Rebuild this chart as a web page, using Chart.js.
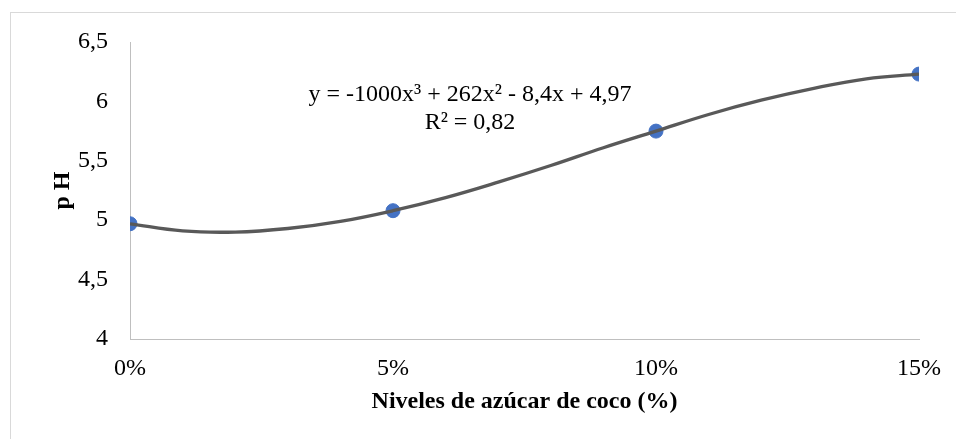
<!DOCTYPE html>
<html>
<head>
<meta charset="utf-8">
<script src="https://cdn.jsdelivr.net/npm/chart.js@4"></script>
<style>
  html, body { margin: 0; padding: 0; background: #fff; }
  #frame { position: absolute; left: 10px; top: 12px; width: 980px; height: 460px; border: 1px solid #d9d9d9; }
  #wrap { position: absolute; left: 0; top: 0; width: 956px; height: 439px; }
</style>
</head>
<body>
<div id="frame"></div>
<div id="wrap"><canvas id="chart" width="956" height="439"></canvas></div>
<script>
// niveles de azúcar de coco (%) y pH medido
const niveles = [0, 5, 10, 15];
const ph = [4.97, 5.08, 5.75, 6.23];

// línea de tendencia polinómica (cada 1 %)
const tendenciaX = [0, 1, 2, 3, 4, 5, 6, 7, 8, 9, 10, 11, 12, 13, 14, 15];
const tendenciaY = [4.97, 4.91, 4.90, 4.93, 4.99, 5.08, 5.19, 5.32, 5.46, 5.61, 5.75, 5.89, 6.01, 6.11, 6.19, 6.23];

const xTickLabels = ['0%', '5%', '10%', '15%'];
const yTickLabels = ['4', '4,5', '5', '5,5', '6', '6,5'];

const ecuacion = ['y = -1000x\u00b3 + 262x\u00b2 - 8,4x + 4,97', 'R\u00b2 = 0,82'];

const FONT = "'Liberation Serif', 'Times New Roman', serif";

// Escribe la ecuación de la tendencia sobre la gráfica
const ecuacionPlugin = {
    id: 'ecuacion',
    afterDatasetsDraw(chart) {
        const ctx = chart.ctx;
        ctx.save();
        ctx.fillStyle = '#000';
        ctx.font = '24px ' + FONT;
        ctx.textAlign = 'center';
        ctx.textBaseline = 'middle';
        ctx.fillText(ecuacion[0], 470, 95);
        ctx.fillText(ecuacion[1], 470, 123);
        ctx.restore();
    }
};

new Chart(document.getElementById('chart'), {
    type: 'scatter',
    data: {
        datasets: [
            {
                label: 'Tendencia',
                data: tendenciaX.map((x, i) => ({ x: x, y: tendenciaY[i] })),
                showLine: true,
                borderColor: '#595959',
                borderWidth: 3.3,
                pointRadius: 0,
                tension: 0.4,
                order: 0
            },
            {
                label: 'pH',
                data: niveles.map((x, i) => ({ x: x, y: ph[i] })),
                backgroundColor: '#4472c4',
                borderColor: '#4472c4',
                pointRadius: 7,
                order: 1
            }
        ]
    },
    plugins: [ecuacionPlugin],
    options: {
        responsive: false,
        animation: false,
        layout: { padding: { left: 0, top: 42, right: 37, bottom: 0 } },
        plugins: { legend: { display: false }, tooltip: { enabled: false } },
        scales: {
            x: {
                type: 'linear',
                min: 0,
                max: 15,
                afterFit: (scale) => { scale.height = 100; },
                afterBuildTicks: (scale) => { scale.ticks = niveles.map(v => ({ value: v })); },
                grid: { display: false, drawTicks: false },
                border: { display: true, color: '#bfbfbf', width: 1 },
                ticks: {
                    padding: 15,
                    color: '#000',
                    font: { family: FONT, size: 24 },
                    callback: (value, index) => xTickLabels[index]
                },
                title: {
                    display: true,
                    text: 'Niveles de azúcar de coco (%)',
                    color: '#000',
                    font: { family: FONT, size: 24, weight: 'bold' },
                    padding: { top: 0, bottom: 23 }
                }
            },
            y: {
                min: 4,
                max: 6.5,
                afterFit: (scale) => { scale.width = 130; },
                grid: { display: false, drawTicks: false },
                border: { display: true, color: '#bfbfbf', width: 1 },
                ticks: {
                    stepSize: 0.5,
                    padding: 22,
                    color: '#000',
                    font: { family: FONT, size: 24 },
                    callback: (value, index) => yTickLabels[index]
                },
                title: {
                    display: true,
                    text: 'p H',
                    color: '#000',
                    font: { family: FONT, size: 24, weight: 'bold' },
                    padding: { top: 48, bottom: 0 }
                }
            }
        }
    }
});
</script>
</body>
</html>
